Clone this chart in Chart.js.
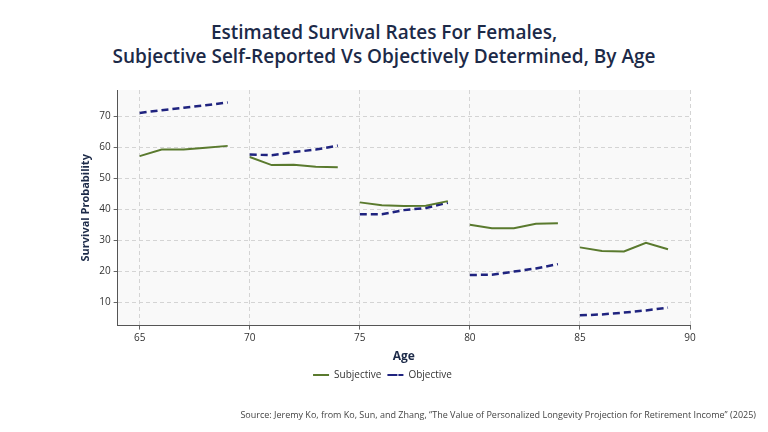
<!DOCTYPE html><html><head><meta charset="utf-8">
<script src="https://cdn.jsdelivr.net/npm/chart.js@4"></script>
<style>html,body{margin:0;background:#fff;}#w{position:relative;width:768px;height:432px;}
#t{position:absolute;top:20px;left:0;width:768px;text-align:center;font:600 19px "Open Sans",sans-serif;color:#1c2a48;line-height:24px;}
#s{position:absolute;top:408px;right:12px;font:9px "Open Sans",sans-serif;color:#444;}</style></head><body>
<div id="w"><div id="t">Estimated Survival Rates For Females,<br>Subjective Self-Reported Vs Objectively Determined, By Age</div>
<canvas id="c" width="768" height="432" style="position:absolute;left:0;top:0"></canvas>
<div id="s">Source: Jeremy Ko, from Ko, Sun, and Zhang, “The Value of Personalized Longevity Projection for Retirement Income” (2025)</div></div>
<script>
const ages=[65,66,67,68,69,69.5,70,71,72,73,74,74.5,75,76,77,78,79,79.5,80,81,82,83,84,84.5,85,86,87,88,89];
const subjective=[57.2,59.3,59.3,59.9,60.5,null,56.9,54.3,54.4,53.8,53.6,null,42.3,41.4,41.1,41.2,42.7,null,35.1,34,34,35.4,35.6,null,27.8,26.6,26.5,29.3,27.2];
const objective=[71.1,72,72.8,73.6,74.5,null,57.7,57.5,58.5,59.3,60.6,null,38.5,38.5,39.8,40.5,42.2,null,18.9,19,20,21,22.4,null,5.9,6.2,6.8,7.5,8.4];
const xTicks=[65,70,75,80,85,90], yTicks=[10,20,30,40,50,60,70];
const pts=a=>ages.map((x,i)=>({x,y:a[i]}));
const bg={id:'bg',beforeDraw(c){const a=c.chartArea,x=c.ctx;x.save();x.fillStyle='#f9f9f9';x.fillRect(a.left,a.top,a.width,a.height);x.restore();}};
Chart.defaults.font.family='"Open Sans",sans-serif';
new Chart(document.getElementById('c'),{type:'line',plugins:[bg],
data:{datasets:[
{label:'Subjective',data:pts(subjective),borderColor:'#5a7a2e',borderWidth:2,pointRadius:0,spanGaps:false,tension:0},
{label:'Objective',data:pts(objective),borderColor:'#1f237f',borderWidth:2.5,borderDash:[7,4],pointRadius:0,spanGaps:false,tension:0}]},
options:{responsive:false,animation:false,
layout:{padding:{left:75,right:78,top:90,bottom:42}},
plugins:{legend:{position:'bottom',labels:{boxWidth:16,boxHeight:0,font:{size:10},color:'#333',padding:6,
generateLabels(c){return c.data.datasets.map((d,i)=>({text:d.label,strokeStyle:d.borderColor,fillStyle:d.borderColor,lineWidth:2,lineDash:d.borderDash||[],datasetIndex:i,fontColor:'#333'}));}}},tooltip:{enabled:false}},
scales:{x:{type:'linear',min:64,max:90,afterBuildTicks(s){s.ticks=xTicks.map(v=>({value:v}));},
grid:{color:'#d4d4d4',drawTicks:true,tickColor:'#666',tickLength:4},border:{dash:[4,3],display:true,color:'#555'},
ticks:{color:'#333',font:{size:10}},title:{display:true,text:'Age',color:'#1c2a48',font:{size:12,weight:'bold'},padding:{top:2,bottom:0}}},
y:{min:2.6,max:78.5,afterBuildTicks(s){s.ticks=yTicks.map(v=>({value:v}));},
grid:{color:'#d4d4d4',tickColor:'#666',tickLength:4},border:{dash:[4,3],display:true,color:'#555'},
ticks:{color:'#333',font:{size:10}},title:{display:true,text:'Survival Probability',color:'#1c2a48',font:{size:11,weight:'bold'}}}}}});
</script></body></html>
